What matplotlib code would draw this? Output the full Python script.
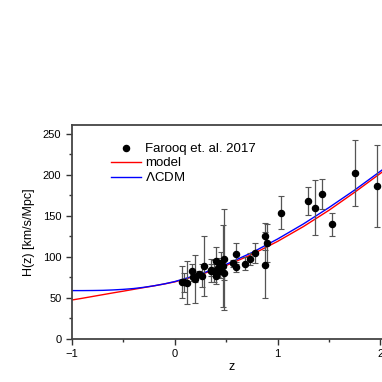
import numpy as np
import matplotlib
matplotlib.use("Agg")
import matplotlib.pyplot as plt
from matplotlib.ticker import MultipleLocator

plt.rcParams['font.family'] = ['Liberation Sans', 'DejaVu Sans']

# H(z) measurements (Farooq et al. 2017 compilation)
z_obs = [0.07, 0.09, 0.12, 0.17, 0.179, 0.199, 0.2, 0.24, 0.27, 0.28, 0.35, 0.352,
         0.3802, 0.4, 0.4004, 0.4247, 0.43, 0.44, 0.4497, 0.47, 0.4783, 0.48, 0.57,
         0.593, 0.6, 0.68, 0.73, 0.781, 0.875, 0.88, 0.9, 1.037, 1.3, 1.363, 1.43,
         1.53, 1.75, 1.965]
H_obs = [69, 69, 68.6, 83, 75, 75, 72.9, 79.69, 77, 88.8, 84.4, 83,
         83, 95, 77, 87.1, 86.45, 82.6, 92.8, 89, 80.9, 97, 92.4,
         104, 87.9, 92, 97.3, 105, 125, 90, 117, 154, 168, 160, 177,
         140, 202, 186.5]
H_err = [19.6, 12, 26.2, 8, 4, 5, 29.6, 2.99, 14, 36.6, 7, 14,
         13.5, 17, 10.2, 11.2, 3.97, 7.8, 12.9, 50, 9, 62, 4.5,
         13, 6.1, 8, 7, 12, 17, 40, 23, 20, 17, 33.6, 18,
         14, 40, 50.4]

# curves
z_curve = [-1.0, -0.9, -0.8, -0.7, -0.6, -0.5, -0.4, -0.3, -0.2, -0.1, 0.0,
           0.25, 0.5, 0.75, 1.0, 1.25, 1.5, 1.75, 2.0, 2.1]
H_model = [47.5, 49.6, 51.8, 54.0, 56.2, 58.3, 60.5, 62.7, 64.8, 67.1, 69.6,
           78.3, 89.6, 103.0, 119.0, 137.0, 157.0, 179.0, 202.0, 211.5]
H_lcdm = [59.0, 59.0, 59.1, 59.3, 59.8, 60.5, 61.5, 63.0, 64.9, 67.2, 70.0,
          79.1, 91.0, 105.3, 121.9, 140.2, 160.3, 181.7, 204.6, 214.0]

fig = plt.figure(figsize=(3.82, 3.82), dpi=100)
ax = fig.add_axes([0.188, 0.1126, 0.835, 0.5604])

ax.errorbar(z_obs, H_obs, yerr=H_err, fmt='none', ecolor='#555555',
            elinewidth=0.9, capsize=2.5, capthick=0.8, zorder=3)
ax.plot(z_obs, H_obs, 'o', color='black', ms=4.4, zorder=4,
        label='Farooq et. al. 2017')
ax.plot(z_curve, H_model, color='red', lw=1.0, label='model', zorder=2)
ax.plot(z_curve, H_lcdm, color='blue', lw=1.0, label=r'$\Lambda$CDM', zorder=2)

ax.set_xlim(-1, 2.1)
ax.set_ylim(0, 261)
ax.xaxis.set_major_locator(MultipleLocator(1))
ax.xaxis.set_minor_locator(MultipleLocator(0.5))
ax.yaxis.set_major_locator(MultipleLocator(50))
ax.yaxis.set_minor_locator(MultipleLocator(25))
ax.tick_params(which='both', direction='out', labelsize=8, color='#333333',
               width=1.0, top=False, right=False)
ax.tick_params(which='major', length=4)
ax.tick_params(which='minor', length=2.5)
for s in ['left', 'bottom', 'top']:
    ax.spines[s].set_linewidth(1.3)
    ax.spines[s].set_color('#444444')
ax.spines['right'].set_visible(False)

ax.set_xlabel('z', fontsize=9, labelpad=1)
ax.set_ylabel('H(z) [km/s/Mpc]', fontsize=9, labelpad=6)

leg = ax.legend(loc='upper left', bbox_to_anchor=(0.105, 0.94), frameon=False,
                fontsize=9.5, handlelength=2.3, handletextpad=0.3,
                labelspacing=0.15, borderaxespad=0)

fig.savefig('out.png', dpi=100)
